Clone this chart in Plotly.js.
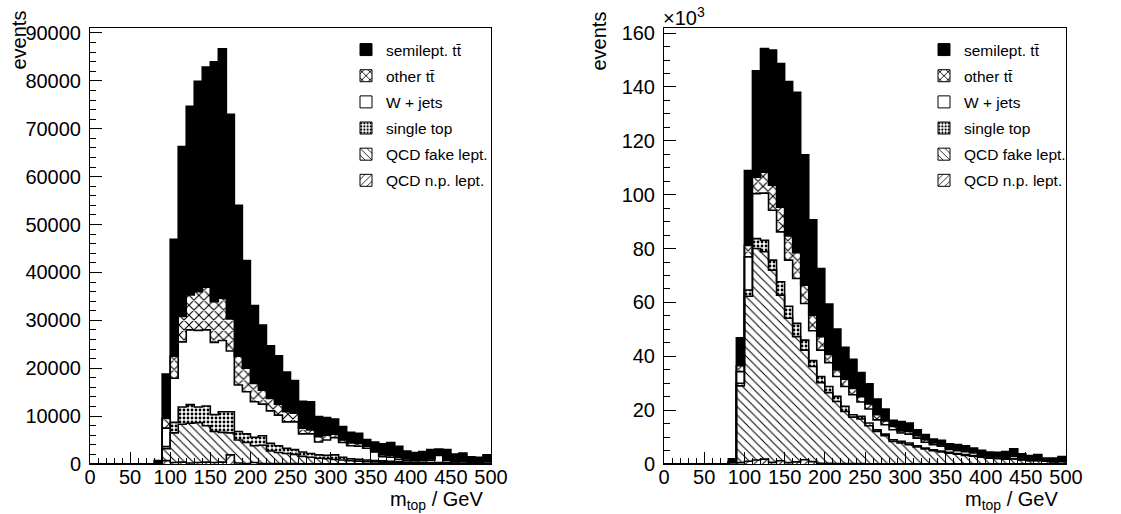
<!DOCTYPE html>
<html><head><meta charset="utf-8">
<script src="https://cdn.plot.ly/plotly-3.0.1.min.js"></script>
<style>html,body{margin:0;padding:0;background:#fff}</style>
</head><body>
<div id="chart" style="width:1121px;height:514px"></div>
<script>
// bin edges of m_top / GeV (10 GeV bins)
const binEdges = [0,10,20,30,40,50,60,70,80,90,100,110,120,130,140,150,160,170,180,190,200,
  210,220,230,240,250,260,270,280,290,300,310,320,330,340,350,360,370,380,390,400,
  410,420,430,440,450,460,470,480,490,500];

const seriesNames = ['QCD n.p. lept.', 'QCD fake lept.', 'single top', 'W + jets', 'other tt\u0304', 'semilept. tt\u0304'];

// left panel: events per bin
const leftNP = [0,0,0,0,0,0,0,0, 0,700,300,400,200,300,400,300,400,1900, 200,100,300,100,100,100,100,100,50,50,
  50,50,50,50,30,30,30,30,20,20, 20,20,20,10,10,10,10,10,10,10, 10,10];
const leftFake = [0,0,0,0,0,0,0,0, 0,2500,6200,7900,8300,8300,7600,6500,6200,4600, 4800,4400,3500,3800,2600,2300,2100,1900,1550,1350,
  1150,1050,900,800,670,570,470,420,380,330, 280,230,180,190,170,170,140,110,110,90, 90,90];
const leftSingle = [0,0,0,0,0,0,0,0, 0,450,2200,3600,3900,3300,4100,3500,4300,4400, 1800,1800,1800,2000,1600,1400,1100,1000,900,800,
  700,700,950,550,400,400,350,250,250,200, 200,150,150,100,120,100,100,80,80,80, 50,50];
const leftW = [0,0,0,0,0,0,0,0, 0,3850,9200,13600,15600,16000,15900,15100,14900,12700, 9700,8800,7400,6600,6800,6400,5500,5800,3800,4100,
  2700,3200,3600,3100,2700,2700,2450,1800,850,850, 500,400,350,400,500,1520,450,300,400,220, 250,350];
const leftOther = [0,0,0,0,0,0,0,0, 0,2000,4600,5300,7300,8100,8900,8500,8800,6700, 6000,4900,3800,2900,2600,2300,2100,1800,1200,800,
  1100,1000,700,500,600,600,400,100,400,400, 400,300,300,300,300,200,300,300,200,200, 200,200];
const leftSemi = [0,0,0,0,0,0,0,0, 700,9300,24400,35500,39400,43900,46000,50100,52100,42700, 31500,22500,16300,13600,11000,10100,8300,6800,5600,5900,
  4200,3700,3200,2800,2200,2100,1400,2000,2300,2700, 2300,1600,1400,1600,1900,1100,2000,1300,1500,900, 800,1200];

// right panel: events per bin in units of 10^3
const rightNP = [0,0,0,0,0,0,0,0, 0.6,0.5,1.0,1.5,1.8,0.6,1.2,0.5,0.8,1.6, 0.9,0.3,0.3,0.2,0.2,0.2,0.2,0.1,0.1,0.1,
  0.1,0.1,0.1,0.1,0.1,0.1,0.1,0.1,0.1,0.1, 0.1,0.1,0.1,0.1,0.1,0.1,0.1,0.1,0.1,0.1, 0.1,0.1];
const rightFake = [0,0,0,0,0,0,0,0, 0,28.5,61.3,78.5,77.0,71.4,61.5,53.6,46.5,40.7, 35.3,29.9,26.2,23.0,19.3,17.2,16.5,14.1,12.0,10.4,
  8.3,7.7,7.1,6.2,5.5,4.8,4.4,3.9,3.5,3.1, 2.8,2.4,2.1,1.9,1.7,1.8,1.4,1.1,1.1,0.9, 0.7,0.8];
const rightSingle = [0,0,0,0,0,0,0,0, 0,1.0,2.3,3.7,4.3,3.7,5.0,4.5,4.9,3.7, 2.2,2.3,2.3,1.9,1.9,0.9,1.0,1.0,0.6,0.6,
  0.6,0.6,0.6,0.5,0.3,0.4,0.3,0.3,0.3,0.3, 0.2,0.2,0.2,0.2,0.1,0.1,0.1,0.1,0.1,0.05, 0.05,0.05];
const rightW = [0,0,0,0,0,0,0,0, 0,4.3,12.3,16.7,17.5,18.5,18.5,17.1,16.7,13.6, 11.1,9.8,8.8,7.4,7.4,7.4,5.3,5.2,3.7,3.5,
  3.7,3.1,3.3,2.8,2.2,1.9,1.8,1.1,1.0,1.1, 1.0,0.6,0.4,0.5,0.4,0.9,0.2,0.1,0.3,0.05, 0.15,0.15];
const rightOther = [0,0,0,0,0,0,0,0, 0,2.2,4.3,6.1,7.8,9.3,9.2,9.0,9.6,6.8, 5.8,5.0,3.1,2.4,2.7,2.4,2.0,1.9,1.9,1.4,
  1.2,0.8,1.0,0.9,0.9,0.6,0.5,0.4,0.4,0.4, 0.4,0.3,0.2,0.3,0.3,0.3,0.2,0.2,0.2,0.1, 0.2,0.2];
const rightSemi = [0,0,0,0,0,0,0,0, 1.3,10.4,27.8,39.5,45.9,50.2,53.3,57.3,59.5,48.4, 35.4,25.3,18.7,15.2,11.8,10.8,9.0,7.5,5.8,4.4,
  2.3,3.5,3.1,2.2,1.9,1.5,1.7,1.7,1.9,1.8, 1.4,1.5,1.4,1.3,2.0,2.4,1.8,1.5,1.7,1.0, 1.0,1.5];

const FONT = 'Liberation Sans, Arial, Helvetica, sans-serif';
const styles = [
  {color:'white', pattern:{shape:'/', fgcolor:'black', bgcolor:'white', size:6, solidity:0.17}},
  {color:'white', pattern:{shape:'\\', fgcolor:'black', bgcolor:'white', size:6, solidity:0.17}},
  {color:'white', pattern:{shape:'.', fgcolor:'black', bgcolor:'white', size:4, solidity:0.4}},
  {color:'white'},
  {color:'white', pattern:{shape:'x', fgcolor:'black', bgcolor:'white', size:7, solidity:0.28}},
  {color:'black'}
];

const binLow = binEdges.slice(0, binEdges.length - 1);
// outline only on the first (empty) bar, so the legend swatch gets a frame but the fills do not
const legendLineW = binLow.map((_, i) => (i === 0 ? 1 : 0));
const traces = [];
function addPanel(series, xa, ya, legendId) {
  series.forEach((vals, k) => {
    traces.push({type:'bar', x: binLow, y: vals, width: 10, offset: 0, xaxis: xa, yaxis: ya,
      name: seriesNames[k], legend: legendId, legendgroup: legendId + k, legendrank: series.length - k,
      showlegend: true,
      marker: Object.assign({line:{width: legendLineW, color:'black'}}, styles[k]), hoverinfo:'skip'});
  });
  const cum = binLow.map(() => 0);
  series.forEach((vals) => {
    vals.forEach((v, i) => { cum[i] += v; });
    const ys = cum.slice(); ys.push(cum[cum.length - 1]);
    traces.push({type:'scatter', mode:'lines', x: binEdges, y: ys, xaxis: xa, yaxis: ya,
      line:{shape:'hv', color:'black', width:1.6}, showlegend:false, hoverinfo:'skip'});
  });
}
addPanel([leftNP, leftFake, leftSingle, leftW, leftOther, leftSemi], 'x', 'y', 'legend');
addPanel([rightNP, rightFake, rightSingle, rightW, rightOther, rightSemi], 'x2', 'y2', 'legend2');

const CW = 1121, CH = 514;
const frameTop = 28, frameBottom = 464;
const yDom = [(CH - frameBottom) / CH, (CH - frameTop) / CH];
const TICKFONT = {family:FONT, size:20, color:'black'};
function xAxis(x0, x1) {
  return {domain:[x0 / CW, x1 / CW], range:[0, 500], tick0:0, dtick:50, ticks:'inside', ticklen:12,
    tickwidth:1, tickcolor:'black', minor:{dtick:10, ticks:'inside', ticklen:6, tickcolor:'black', tickwidth:1},
    showline:true, mirror:true, linecolor:'black', linewidth:1, showgrid:false, zeroline:false,
    ticklabelstandoff:-5, tickfont:TICKFONT, fixedrange:true};
}
function yAxis(max, dt, mdt, anchor) {
  return {domain:yDom, anchor: anchor, range:[0, max], tick0:0, dtick:dt, ticks:'inside', ticklen:12,
    tickwidth:1, tickcolor:'black', minor:{dtick:mdt, ticks:'inside', ticklen:6, tickcolor:'black', tickwidth:1},
    showline:true, mirror:true, linecolor:'black', linewidth:1, showgrid:false, zeroline:false,
    tickformat:'d', ticklabelstandoff:4, tickfont:TICKFONT, fixedrange:true};
}
const LX0 = 90, LX1 = 491, RX0 = 664, RX1 = 1066;
const legendBase = {xanchor:'left', yanchor:'top', bgcolor:'rgba(0,0,0,0)', borderwidth:0,
  font:{family:FONT, size:15.5, color:'black'}, traceorder:'grouped', tracegroupgap:3};
const TITLEFONT = {family:FONT, size:20, color:'black'};
const layout = {
  width:CW, height:CH, margin:{l:0, r:0, t:0, b:0}, paper_bgcolor:'white', plot_bgcolor:'white',
  barmode:'stack', bargap:0, showlegend:true,
  xaxis: Object.assign(xAxis(LX0, LX1), {anchor:'y'}),
  yaxis: yAxis(91035, 10000, 2000, 'x'),
  xaxis2: Object.assign(xAxis(RX0, RX1), {anchor:'y2'}),
  yaxis2: yAxis(161.9, 20, 5, 'x2'),
  legend: Object.assign({x: 346 / CW, y: 1 - 33 / CH}, legendBase),
  legend2: Object.assign({x: 924 / CW, y: 1 - 33 / CH}, legendBase),
  annotations: [
    {xref:'paper', yref:'paper', x: 18 / CW, y: 1 - 9 / CH, text:'events', textangle:-90, showarrow:false,
      xanchor:'center', yanchor:'top', font:TITLEFONT},
    {xref:'paper', yref:'paper', x: 598 / CW, y: 1 - 9 / CH, text:'events', textangle:-90, showarrow:false,
      xanchor:'center', yanchor:'top', font:TITLEFONT},
    {xref:'paper', yref:'paper', x: (LX1 - 6) / CW, y: 1 - 500 / CH, text:'m<sub>top</sub> / GeV', showarrow:false,
      xanchor:'right', yanchor:'middle', font:TITLEFONT},
    {xref:'paper', yref:'paper', x: (RX1 - 6) / CW, y: 1 - 500 / CH, text:'m<sub>top</sub> / GeV', showarrow:false,
      xanchor:'right', yanchor:'middle', font:TITLEFONT},
    {xref:'paper', yref:'paper', x: 661 / CW, y: 1 - 16 / CH, text:'\u00d710<sup>3</sup>', showarrow:false,
      xanchor:'left', yanchor:'middle', font:TITLEFONT}
  ]
};
Plotly.newPlot('chart', traces, layout, {staticPlot:true, displayModeBar:false});
</script>
</body></html>
